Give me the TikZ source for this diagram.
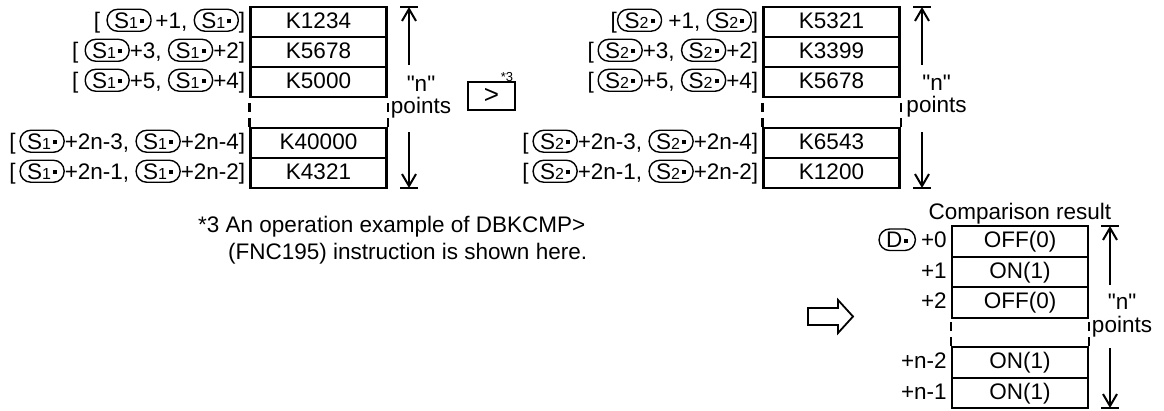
\documentclass[tikz,border=0pt]{standalone}
\usepackage{fontspec}
\setmainfont{Liberation Sans}[Ligatures=TeXOff]
\usetikzlibrary{arrows.meta, positioning}
\newcommand{\opnd}[2]{\tikz[baseline=(o.base)]\node[draw, line width=1.4pt, rounded corners=10.5pt, inner xsep=7pt, inner ysep=3pt, anchor=base] (o) {#1{\fontsize{16}{16}\selectfont#2}\kern2pt\rule[5pt]{4pt}{4pt}};}
\tikzset{
    cell/.style={rectangle, draw, line width=2.2pt, minimum width=136pt, minimum height=30pt, inner sep=0pt, text height=16pt, text depth=4pt},
    lbl/.style={anchor=base east, inner sep=1pt},
    note/.style={anchor=base, inner sep=0pt},
    npts/.style={align=center, inner sep=0pt},
    gapline/.style={line width=2.2pt, dash pattern=on 9pt off 6pt},
    dimarrow/.style={line width=2pt, -{Straight Barb[length=12pt, width=14pt]}},
    dimbar/.style={line width=2pt},
    cmpbox/.style={rectangle, draw, line width=2.2pt, minimum width=47pt, minimum height=28pt, inner sep=0pt},
}

\begin{document}
\begin{tikzpicture}[x=1pt, y=-1pt, font=\fontsize{22.5}{24}\selectfont]
    \useasboundingbox (0,0) rectangle (1164,410);

    \node[cell] (s1r1) at (318.5,22) {K1234};
    \node[cell] (s1r2) at (318.5,52) {K5678};
    \node[cell] (s1r3) at (318.5,82) {K5000};
    \node[cell] (s1r4) at (318.5,143) {K40000};
    \node[cell] (s1r5) at (318.5,173) {K4321};
    \draw[gapline] (s1r4.north west) -- (s1r3.south west);
    \draw[gapline] (s1r4.north east) -- (s1r3.south east);

    \node[lbl] (s1l1) at ([xshift=-3pt]s1r1.base west) {[ \opnd{S}{1}\,+1, \opnd{S}{1}]};
    \node[lbl] (s1l2) at ([xshift=-3pt]s1r2.base west) {[ \opnd{S}{1}+3, \opnd{S}{1}+2]};
    \node[lbl] (s1l3) at ([xshift=-3pt]s1r3.base west) {[ \opnd{S}{1}+5, \opnd{S}{1}+4]};
    \node[lbl] (s1l4) at ([xshift=-3pt]s1r4.base west) {[\,\opnd{S}{1}+2n-3, \opnd{S}{1}+2n-4]};
    \node[lbl] (s1l5) at ([xshift=-3pt]s1r5.base west) {[\,\opnd{S}{1}+2n-1, \opnd{S}{1}+2n-2]};

    \coordinate (s1top) at (409,7);
    \coordinate (s1up) at (409,65);
    \coordinate (s1dn) at (409,132);
    \coordinate (s1bot) at (409,188);
    \node[npts, font=\fontsize{22.5}{22}\selectfont] (s1n) at (421,97.5) {"n"\\points};
    \draw[dimarrow] (s1up) -- (s1top);
    \draw[dimarrow] (s1dn) -- (s1bot);
    \draw[dimbar] ([xshift=-9pt]s1top) -- ([xshift=9pt]s1top);
    \draw[dimbar] ([xshift=-9pt]s1bot) -- ([xshift=9pt]s1bot);

    \node[cmpbox, font=\fontsize{26}{26}\selectfont] (cmp) at (491.5,96) {>};
    \node[note, font=\fontsize{13}{13}\selectfont] (star3) at (507,81) {*3};

    \node[cell] (s2r1) at (831.5,22) {K5321};
    \node[cell] (s2r2) at (831.5,52) {K3399};
    \node[cell] (s2r3) at (831.5,82) {K5678};
    \node[cell] (s2r4) at (831.5,143) {K6543};
    \node[cell] (s2r5) at (831.5,173) {K1200};
    \draw[gapline] (s2r4.north west) -- (s2r3.south west);
    \draw[gapline] (s2r4.north east) -- (s2r3.south east);

    \node[lbl] (s2l1) at ([xshift=-3pt]s2r1.base west) {[\opnd{S}{2} +1, \opnd{S}{2}]};
    \node[lbl] (s2l2) at ([xshift=-3pt]s2r2.base west) {[\,\opnd{S}{2}+3, \opnd{S}{2}+2]};
    \node[lbl] (s2l3) at ([xshift=-3pt]s2r3.base west) {[\,\opnd{S}{2}+5, \opnd{S}{2}+4]};
    \node[lbl] (s2l4) at ([xshift=-3pt]s2r4.base west) {[\,\opnd{S}{2}+2n-3, \opnd{S}{2}+2n-4]};
    \node[lbl] (s2l5) at ([xshift=-3pt]s2r5.base west) {[\,\opnd{S}{2}+2n-1, \opnd{S}{2}+2n-2]};

    \coordinate (s2top) at (922,7);
    \coordinate (s2up) at (922,65);
    \coordinate (s2dn) at (922,132);
    \coordinate (s2bot) at (922,188);
    \node[npts, font=\fontsize{22.5}{22}\selectfont] (s2n) at (936.5,96) {"n"\\points};
    \draw[dimarrow] (s2up) -- (s2top);
    \draw[dimarrow] (s2dn) -- (s2bot);
    \draw[dimbar] ([xshift=-9pt]s2top) -- ([xshift=9pt]s2top);
    \draw[dimbar] ([xshift=-9pt]s2bot) -- ([xshift=9pt]s2bot);

    \node[anchor=base west, inner sep=0pt] (fn1) at (198,232) {*3 An operation example of DBKCMP>};
    \node[anchor=base west, inner sep=0pt] (fn2) at (228,259) {(FNC195) instruction is shown here.};

    \draw[line width=1.8pt] (808,308) -- (838,308) -- (838,300) -- (853,316.5) -- (838,333) -- (838,325) -- (808,325) -- cycle;

    \node[note] (cmpres) at (1020,219) {Comparison result};
    \node[cell, minimum height=30.5pt] (dr1) at (1020,241.5) {OFF(0)};
    \node[cell, minimum height=30.5pt] (dr2) at (1020,272) {ON(1)};
    \node[cell, minimum height=30.5pt] (dr3) at (1020,302.5) {OFF(0)};
    \node[cell, minimum height=30.5pt] (dr4) at (1020,362.5) {ON(1)};
    \node[cell, minimum height=30.5pt] (dr5) at (1020,393) {ON(1)};
    \draw[gapline] (dr4.north west) -- (dr3.south west);
    \draw[gapline] (dr4.north east) -- (dr3.south east);

    \node[lbl] (dl1) at ([xshift=-3pt]dr1.base west) {\opnd{D}{}\kern5pt+0};
    \node[lbl] (dl2) at ([xshift=-3pt]dr2.base west) {+1};
    \node[lbl] (dl3) at ([xshift=-3pt]dr3.base west) {+2};
    \node[lbl] (dl4) at ([xshift=-3pt]dr4.base west) {+n-2};
    \node[lbl] (dl5) at ([xshift=-3pt]dr5.base west) {+n-1};

    \coordinate (dtop) at (1110,226);
    \coordinate (dup) at (1110,285);
    \coordinate (ddn) at (1110,348);
    \coordinate (dbot) at (1110,408);
    \node[npts, font=\fontsize{22.5}{23}\selectfont] (dn) at (1122,316) {"n"\\points};
    \draw[dimarrow] (dup) -- (dtop);
    \draw[dimarrow] (ddn) -- (dbot);
    \draw[dimbar] ([xshift=-9pt]dtop) -- ([xshift=9pt]dtop);
    \draw[dimbar] ([xshift=-9pt]dbot) -- ([xshift=9pt]dbot);
\end{tikzpicture}
\end{document}
